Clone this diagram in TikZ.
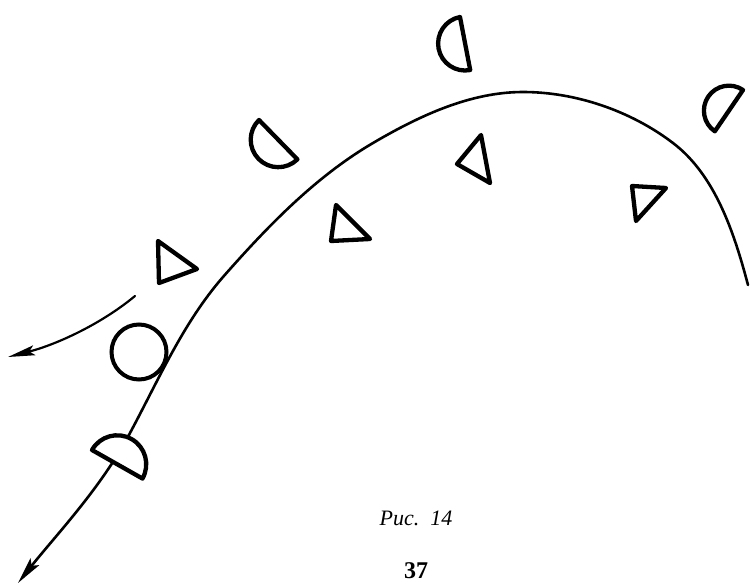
\documentclass[tikz,border=0pt]{standalone}
\usepackage{fontspec}
\setmainfont{Liberation Serif}
\usetikzlibrary{arrows.meta}
\begin{document}
\begin{tikzpicture}[x=1pt,y=-1pt,
  pathline/.style={line width=2.6pt, line cap=round},
  figline/.style={line width=4.3pt, line join=round, fill=white}]
\useasboundingbox (0,0) rectangle (750,584);
% main trajectory
\coordinate (start) at (18,583);
\coordinate (finish) at (748,285);
\draw[pathline, {Stealth[length=27pt,width=11pt,inset=5pt]}-] (start)
  .. controls (56,535) and (101,488) .. (130,433)
  .. controls (159,379) and (183,323) .. (223,277)
  .. controls (267,227) and (315,177) .. (373,143)
  .. controls (419,116) and (470,92) .. (523,92)
  .. controls (576,92) and (631,111) .. (673,143)
  .. controls (715,175) and (734,232) .. (finish);
% side arrow
\coordinate (a1) at (135,296);
\coordinate (a2) at (8,357);
\draw[line width=2.2pt, line cap=round, -{Stealth[length=27pt,width=10pt,inset=5pt]}] (a1) .. controls (100,325) and (55,345) .. (a2);
% circle
\node[draw, circle, line width=4pt, minimum size=55pt, inner sep=0pt, fill=white] (ring) at (139,352) {};
% triangles
\draw[figline] (158,241) -- (159,283) -- (197,269) -- cycle;
\draw[figline] (336,205) -- (331,241) -- (370,239) -- cycle;
\draw[figline] (481,135) -- (457,164) -- (490,183) -- cycle;
\draw[figline] (632,186) -- (666,188) -- (636,221) -- cycle;
% half discs
\draw[figline] (460,17) arc[start angle=-100.9, end angle=-280.9, radius=27] -- cycle;
\draw[figline] (259,120) arc[start angle=-134.3, end angle=-314.3, radius=27.5] -- cycle;
\draw[figline] (743,90) arc[start angle=-55.7, end angle=-235.7, radius=25] -- cycle;
\draw[figline] (92,450) arc[start angle=-150.5, end angle=29.5, radius=29] -- cycle;
% caption
\node[font=\fontsize{22}{26}\selectfont\itshape] (cap) at (416,518) {Рис.~~14};
\node[font=\fontsize{24}{28}\selectfont\bfseries] (page) at (416,571) {37};
\end{tikzpicture}
\end{document}
